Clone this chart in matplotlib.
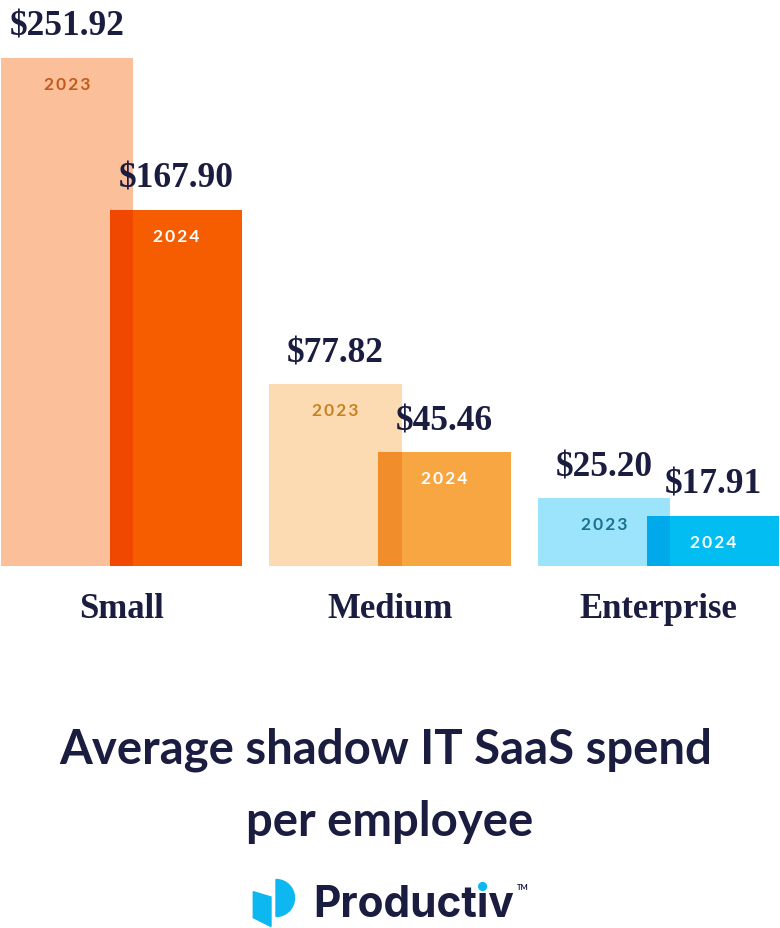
import numpy as np
import matplotlib
matplotlib.use("Agg")
import matplotlib.pyplot as plt
from matplotlib import transforms
from matplotlib.patches import Polygon, Wedge, Circle

# ---------------- data ----------------
categories = ["Small", "Medium", "Enterprise"]
years = ["2023", "2024"]
spend_2023 = [251.92, 77.82, 25.20]
spend_2024 = [167.90, 45.46, 17.91]

# ---------------- styles ----------------
NAVY = "#1a1c40"
col_2023 = ["#fbbf9a", "#fcdbb2", "#9be4fb"]
col_2024 = ["#f65d00", "#f7a641", "#01bdf2"]
col_overlap = ["#f04800", "#f28d2c", "#00a9e9"]
lab_2023 = ["#c45a1c", "#c98222", "#1a7190"]

W, H = 780, 929
fig = plt.figure(figsize=(W / 100, H / 100), dpi=100)
fig.patch.set_facecolor("white")
ax = fig.add_axes([0, 362 / H, 1, 567 / H])

# non-linear (power) value scale, as in the original infographic
P = 0.875
ax.set_yscale("function",
              functions=(lambda v: np.sign(v) * np.abs(v) ** P,
                         lambda v: np.sign(v) * np.abs(v) ** (1 / P)))

x = np.arange(len(categories))
bw = 0.495
off = 0.203

ax.bar(x - off, spend_2023, width=bw, color=col_2023, zorder=2)
ax.bar(x + off, spend_2024, width=bw, color=col_2024, zorder=3)
# overlap strip, darker
ov_left = x + off - bw / 2
ov_right = x - off + bw / 2
ax.bar((ov_left + ov_right) / 2, np.minimum(spend_2023, spend_2024),
       width=(ov_right - ov_left), color=col_overlap, zorder=4)

ax.set_xlim(-0.4525, 2.4525)
ax.set_ylim(0, 285.5)
ax.axis("off")

serif = ["Liberation Serif", "DejaVu Serif"]
sans = ["Lato", "DejaVu Sans"]

def money(v):
    return f"${v:.2f}"

def spaced(s):
    return "\u2009".join(s)

for i in range(len(categories)):
    for xi, v, yr, lc in [(x[i] - off, spend_2023[i], years[0], lab_2023[i]),
                          (x[i] + off, spend_2024[i], years[1], "white")]:
        ax.annotate(money(v), (xi, v), xytext=(0, 16.5), textcoords="offset points",
                    ha="center", va="baseline", fontsize=25.5, fontweight="bold",
                    family=serif, color=NAVY, zorder=6)
        ax.annotate(spaced(yr), (xi, v), xytext=(0, -18.7), textcoords="offset points",
                    ha="center", va="center", fontsize=12.5, fontweight="bold",
                    family=sans, color=lc, zorder=6)
    ax.annotate(categories[i], (x[i], 0), xytext=(0, -37.0), textcoords="offset points",
                ha="center", va="baseline", fontsize=25, fontweight="bold",
                family=serif, color=NAVY, annotation_clip=False)

# ---------------- title ----------------
fig.text(0.494, 1 - 764 / H, "Average shadow IT SaaS spend", ha="center", va="baseline",
         fontsize=34, fontweight="bold", family=sans, color=NAVY)
fig.text(0.5, 1 - 836 / H, "per employee", ha="center", va="baseline",
         fontsize=34, fontweight="bold", family=sans, color=NAVY)

# ---------------- logo ----------------
px = transforms.Affine2D().scale(1 / W, -1 / H).translate(0, 1) + fig.transFigure
BLUE = "#0cb8ef"
fig.patches.append(Polygon([(253.3, 892.7), (271, 898), (271, 927.5), (253.3, 918.7)],
                           closed=True, transform=px, color=BLUE, figure=fig))
fig.patches.append(Wedge((276, 899), 18.5, -90, 90, transform=px, color=BLUE, figure=fig))

logo_family = ["Inter", "DejaVu Sans"]
logo_kw = dict(fontsize=30.5, fontweight="bold", family=logo_family, color=NAVY,
               va="baseline", ha="left")
lx, ly = 313 / W, 1 - 917 / H
t = fig.text(lx, ly, "Product\u0131v", **logo_kw)
fig.canvas.draw()
r = fig.canvas.get_renderer()
tmp1 = fig.text(lx, ly, "Product", **logo_kw)
tmp2 = fig.text(lx, ly, "Product\u0131", **logo_kw)
e1 = tmp1.get_window_extent(r)
e2 = tmp2.get_window_extent(r)
ef = t.get_window_extent(r)
tmp1.remove()
tmp2.remove()
dot_x = (e1.x1 + e2.x1) / 2
fig.patches.append(Circle((dot_x, 887.5), 3.9, transform=px, color=BLUE, figure=fig))
fig.text(ef.x1 / W + 3 / W, 1 - 884 / H, "TM", fontsize=5.5, fontweight="bold",
         family=sans, color=NAVY, ha="left", va="top")

fig.savefig("out.png", dpi=100, facecolor="white")
